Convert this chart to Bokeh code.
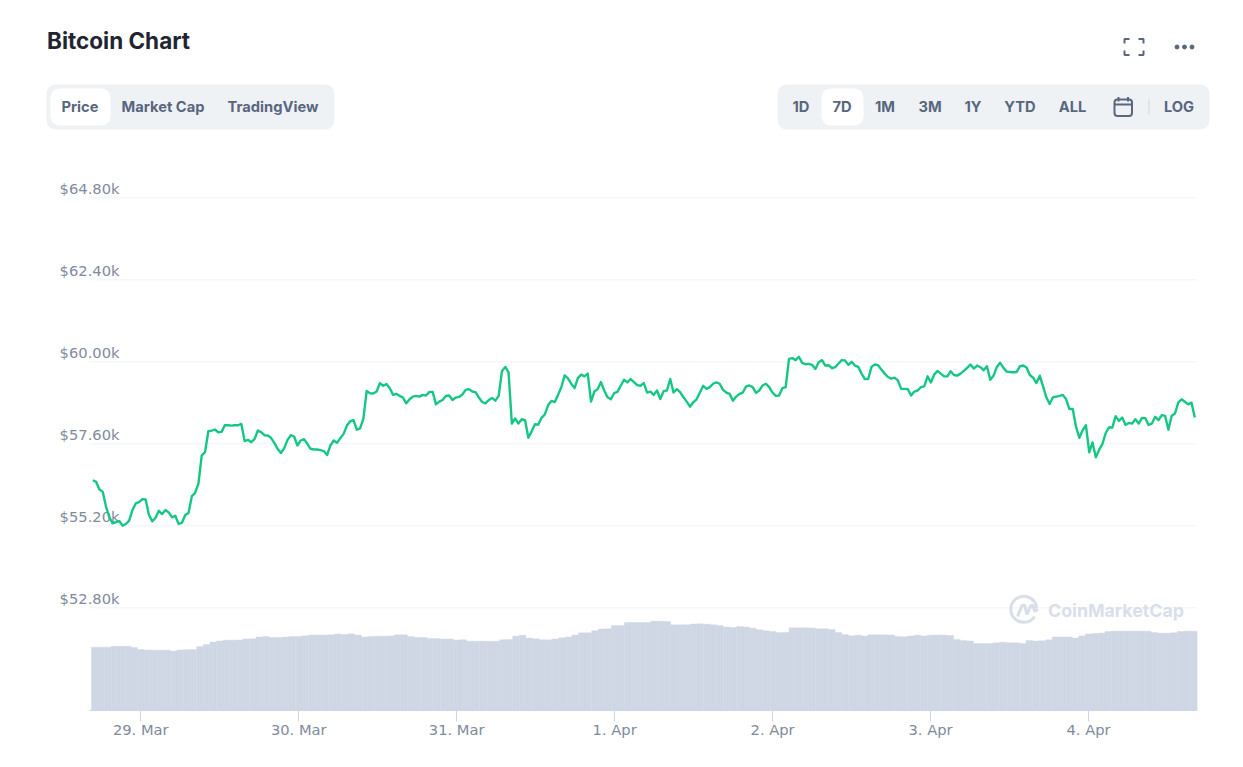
import pandas as pd
from bokeh.core.properties import value
from bokeh.embed import file_html
from bokeh.models import ColumnDataSource, DatetimeAxis, FixedTicker, Range1d
from bokeh.plotting import figure
from bokeh.resources import INLINE

# half hourly price
price = [
    56533, 56484, 56261, 56193, 55757, 55447, 55272, 55311, 55340, 55204, 55253, 55350,
    55660, 55854, 55893, 55980, 55970, 55515, 55330, 55437, 55640, 55544, 55660, 55592,
    55447, 55495, 55253, 55291, 55515, 55573, 56067, 56164, 56436, 57260, 57358, 57969,
    57988, 58017, 57940, 57949, 58143, 58143, 58133, 58143, 58143, 58182, 57678, 57716,
    57648, 57736, 57988, 57940, 57852, 57843, 57775, 57629, 57454, 57328, 57474, 57716,
    57852, 57813, 57551, 57697, 57736, 57600, 57454, 57435, 57435, 57416, 57387, 57270,
    57551, 57697, 57629, 57765, 57891, 58133, 58260,
    58291, 58014, 58054, 58340, 59150, 59081, 59071, 59130, 59377, 59298, 59348, 59229,
    59032, 59061, 59002, 58953, 58785, 58903, 58982, 59002, 58982, 59032, 59012, 59120,
    59120, 58755, 58834, 58883, 59002, 59012, 58883, 58953, 58972, 59042, 59180, 59200,
    59130, 59111, 58953, 58824, 58785, 58883, 58943, 58864, 59002, 59723, 59851, 59693,
    58192, 58340, 58192, 58320, 58291, 57777, 57965, 58172, 58162, 58360, 58459, 58735,
    58854, 58824, 59032, 59259, 59604, 59516, 59358, 59229, 59525, 59624, 59575, 59654,
    58834, 59130, 59200, 59407, 59160, 58962, 58903, 59081, 59120, 59298, 59476, 59397,
    59496, 59407, 59318, 59298,
    59377, 59101, 59130, 59032, 59160, 58913, 59140, 59160, 59496, 59101, 59200, 59111,
    58962, 58834, 58686, 58814, 58903, 59101, 59298, 59209, 59259, 59358, 59397, 59358,
    59180, 59101, 59061, 58864, 58982, 59061, 59101, 59279, 59308, 59259, 59091, 59160,
    59308, 59358, 59259, 59101, 59002, 59012, 59229, 59259, 60088, 60108, 60049, 60148,
    59970, 59930, 59940, 59911, 59792, 59990, 60049, 59891, 59901, 59812, 59842, 59950,
    60049, 60039, 59911, 60000, 59891, 59851, 59654, 59496, 59496, 59851, 59921, 59901,
    59772, 59654, 59555, 59506, 59535, 59456, 59209, 59209, 59200, 59012, 59130, 59160,
    59259, 59279, 59575, 59397, 59624, 59733,
    59654, 59575, 59575, 59723, 59614, 59595, 59654, 59733, 59822, 59921, 59802, 59891,
    59842, 59753, 59871, 59476, 59595, 59851, 59970, 59822, 59713, 59703, 59693, 59703,
    59871, 59891, 59832, 59614, 59535, 59377, 59595, 59279, 58962, 58765, 58962, 58982,
    59002, 59032, 58903, 58617, 58617, 58093, 57777, 57995, 58143, 57353, 57639, 57204,
    57422, 57600, 57916, 58083, 58073, 58409, 58271, 58370, 58153, 58212, 58192, 58320,
    58192, 58360, 58350, 58153, 58192, 58390, 58291, 58439, 58419, 58014, 58419, 58488,
    58814, 58903, 58834, 58755, 58804, 58370,
]

# hourly volume in billions
volume = [
    31.65, 31.65, 31.65, 32.15, 32.15, 32.15, 31.5, 30.5, 30.25, 30.15, 30.15, 30.15,
    29.75, 30.25, 30.35, 30.5, 32, 33, 34.25, 34.75, 35.15, 35.15, 35.25, 35.75,
    35.85, 36.75, 37, 36.5, 36.5, 36.75, 37, 37, 37.35, 37.75, 37.75, 37.75,
    37.85, 38.25, 38, 38.35, 37.75, 36.75, 37, 37.15, 37.15, 37.25, 37.85, 37.85,
    37, 36.5, 36.5, 36, 36, 35.75, 35.75, 35.25, 35.35, 34.65, 34.65, 34.65,
    34.65, 34.65, 35.35, 35.5, 37.15, 37.65, 36.25, 35.85, 35.35, 35.35, 35.75, 36.35,
    36.75, 37.75, 38.85, 38.85, 39.85, 40.75, 40.85, 42.5, 42.5, 44, 44, 44,
    44, 44.65, 44.65, 44.5, 42.85, 42.85, 42.85, 43.25, 43.35, 43.15, 42.85, 42.5,
    41.75, 41.5, 42, 41.75, 41.15, 40.35, 39.85, 39.5, 39, 39, 41.35, 41.35,
    41.35, 41.25, 40.85, 40.85, 40.5, 39, 38, 37.35, 37.65, 37.25, 37.85, 37.85,
    37.85, 37.75, 37, 36.85, 37.25, 37.65, 37.25, 37.65, 37.75, 37.75, 37.5, 35.5,
    35, 34.75, 33.5, 33.5, 33.5, 33.85, 34.15, 33.85, 33.85, 33.5, 35, 34.75,
    34.85, 35.35, 36.75, 36.75, 36.75, 36.25, 37.25, 38.25, 38.5, 38.75, 39.5, 39.65,
    39.65, 39.65, 39.65, 39.65, 39.65, 39, 38.65, 38.65, 38.85, 39.5, 39.65, 39.65,
]

y_ticks = [52800, 55200, 57600, 60000, 62400, 64800]
y_labels = ["$52.80k", "$55.20k", "$57.60k", "$60.00k", "$62.40k", "$64.80k"]
x_ticks = ["2021-03-29", "2021-03-30", "2021-03-31", "2021-04-01", "2021-04-02", "2021-04-03", "2021-04-04"]
x_labels = ["29. Mar", "30. Mar", "31. Mar", "1. Apr", "2. Apr", "3. Apr", "4. Apr"]

left_tabs = ["Price", "Market Cap", "TradingView"]
left_tab_x = [79.5, 162.5, 272.5]
range_tabs = ["1D", "7D", "1M", "3M", "1Y", "YTD", "ALL", "LOG"]
range_tab_x = [800.5, 841.5, 884.5, 929.5, 972.5, 1019.5, 1072, 1178.5]

BTN_TEXT = "#58667e"
PILL = "#eff2f5"
WM = "#d9dfea"
UI_FONT = value("Inter")
AXIS_FONT = value("DejaVu Sans")
page = dict(x_range_name="page", y_range_name="page")

times = pd.date_range("2021-03-28 16:43", "2021-04-04 16:09", periods=len(price))
vol_times = pd.date_range("2021-03-28 17:00", periods=len(volume), freq="h")

# the frame fills the page, so the buttons and the title can sit in it too
p = figure(width=1243, height=760, output_backend="svg", toolbar_location=None,
           x_axis_location=None, y_axis_location=None,
           x_range=Range1d(pd.Timestamp("2021-03-28 02:41"), pd.Timestamp("2021-04-04 23:33")),
           y_range=Range1d(48331, 70575),
           min_border=0, outline_line_color=None)
p.extra_y_ranges = {"volume": Range1d(-25, 355), "page": Range1d(760, 0)}
p.extra_x_ranges = {"page": Range1d(0, 1243)}

# header
p.quad(left=[46, 777], right=[334, 1209], top=[84, 84], bottom=[129, 129],
       fill_color=PILL, line_color=None, border_radius=9, **page)
p.quad(left=[50, 821], right=[110, 863], top=[88, 88], bottom=[125, 125],
       fill_color="white", line_color=None, border_radius=9, **page)
p.text(x=[46.5], y=[40], text=["Bitcoin Chart"], text_font=UI_FONT, text_font_style="bold",
       text_font_size="22.5px", text_color="#222531", text_baseline="middle", **page)
p.text(x=left_tab_x, y=[106.3] * 3, text=left_tabs, text_font=UI_FONT, text_font_style="bold",
       text_font_size="14.7px", text_color=BTN_TEXT, text_align="center", text_baseline="middle", **page)
p.text(x=range_tab_x, y=[106.3] * 8, text=range_tabs, text_font=UI_FONT, text_font_style="bold",
       text_font_size="14.7px", text_color=BTN_TEXT, text_align="center", text_baseline="middle", **page)

# fullscreen icon
corners_x = [[1124, 1124, 1129], [1138, 1143, 1143], [1124, 1124, 1129], [1138, 1143, 1143]]
corners_y = [[43, 38.5, 38.5], [38.5, 38.5, 43], [50, 54.5, 54.5], [54.5, 54.5, 50]]
p.multi_line(corners_x, corners_y, line_color=BTN_TEXT, line_width=2, **page)
# dots
p.scatter(x=[1176.5, 1184, 1191.5], y=[46.5] * 3, size=4, color=BTN_TEXT, **page)
# calendar
p.quad(left=[1114], right=[1131.5], top=[99], bottom=[115.5], fill_color=None,
       line_color=BTN_TEXT, line_width=2, border_radius=3, **page)
p.multi_line([[1114, 1131.5], [1118, 1118], [1127.5, 1127.5]], [[104, 104], [96.5, 101], [96.5, 101]],
             line_color=BTN_TEXT, line_width=2, **page)
p.line([1148.5, 1148.5], [99, 114], line_color="#cfd6e4", line_width=1, **page)

# gridlines and price labels
p.segment(x0=[89] * 6, x1=[1196] * 6, y0=y_ticks, y1=y_ticks, line_color=PILL, line_width=1,
          x_range_name="page")
p.text(x=[119] * 6, y=y_ticks, text=y_labels, y_offset=-9, text_align="right",
       text_baseline="middle", text_color="#808a9d", text_font=AXIS_FONT,
       text_font_size="14.7px", x_range_name="page")

tick_ms = [pd.Timestamp(t).timestamp() * 1000 for t in x_ticks]
start_ms = pd.Timestamp("2021-03-28 16:12").timestamp() * 1000
end_ms = pd.Timestamp("2021-04-04 16:24").timestamp() * 1000
xaxis = DatetimeAxis(ticker=FixedTicker(ticks=tick_ms), fixed_location=49794, bounds=(start_ms, end_ms))
xaxis.major_label_overrides = dict(zip(tick_ms, x_labels))
xaxis.axis_line_color = "#ccd6eb"
xaxis.major_tick_line_color = "#ccd6eb"
xaxis.major_tick_in = 0
xaxis.major_tick_out = 11
xaxis.minor_tick_line_color = None
xaxis.major_label_standoff = -1
xaxis.major_label_text_color = "#808a9d"
xaxis.major_label_text_font = "DejaVu Sans"
xaxis.major_label_text_font_size = "14.7px"

vol_src = ColumnDataSource(data=dict(t=vol_times, v=volume))
p.vbar(x="t", top="v", bottom=0, width=3600000, source=vol_src, y_range_name="volume",
       fill_color="#cfd6e4", line_color="#cfd6e4", line_width=0.4)

p.add_layout(xaxis, "below")
p.grid.visible = False

src = ColumnDataSource(data=dict(t=times, price=price))
p.line(x="t", y="price", source=src, line_color="#16c784", line_width=2.4, line_join="round")

# watermark
p.arc(x=[1023.3], y=[608.8], radius=13, start_angle=0.1, end_angle=5.7, line_color=WM, line_width=3, **page)
p.line([1017, 1021.5, 1024, 1026.5, 1030, 1032.3, 1034.3, 1037.3],
       [616, 605, 604.5, 614, 605.7, 604.5, 611, 608.5], line_color=WM, line_width=3, **page)
p.text(x=[1047.5], y=[610], text=["CoinMarketCap"], text_font=UI_FONT, text_font_style="bold",
       text_font_size="17.8px", text_color=WM, text_baseline="middle", **page)

open("out.html", "w").write(file_html(p, INLINE))
